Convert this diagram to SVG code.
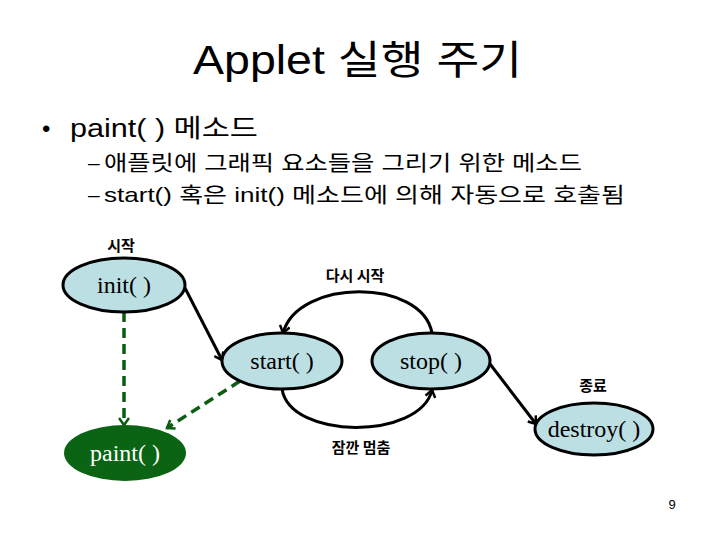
<svg xmlns="http://www.w3.org/2000/svg" width="720" height="540" viewBox="0 0 720 540">
<style>
.kr{font-family:"Liberation Sans","Noto Sans CJK KR",sans-serif;fill:#000}
.lbl{font-family:"Noto Sans CJK KR",sans-serif;font-weight:bold;font-size:15px;text-anchor:middle}
.node{fill:#bcdfe3;stroke:#000;stroke-width:3}
.nt{font-family:"Liberation Serif",serif;font-size:24px;text-anchor:middle;fill:#000}
.e{fill:none;stroke:#000;stroke-width:3}
.d{fill:none;stroke:#0b5d12;stroke-width:3.5;stroke-dasharray:10,6}
</style>
<defs>
<marker id="ab" markerWidth="12" markerHeight="12" refX="9" refY="6" orient="auto" markerUnits="userSpaceOnUse">
<path d="M2,1 L9,6 L2,11" fill="none" stroke="#000" stroke-width="2.5"/>
</marker>
<marker id="ag" markerWidth="12" markerHeight="12" refX="9" refY="6" orient="auto" markerUnits="userSpaceOnUse">
<path d="M2,1 L9,6 L2,11" fill="none" stroke="#0b5d12" stroke-width="2.5"/>
</marker>
</defs>
<rect width="720" height="540" fill="#fff"/>
<text x="193" y="74" class="kr" font-size="40" textLength="329" lengthAdjust="spacingAndGlyphs">Applet 실행 주기</text>
<text x="42" y="137" class="kr" font-size="24">•</text>
<text x="70" y="137" class="kr" font-size="25" textLength="188" lengthAdjust="spacingAndGlyphs">paint( ) 메소드</text>
<text x="88" y="170" class="kr" font-size="21">–</text>
<text x="104" y="170" class="kr" font-size="21" textLength="478" lengthAdjust="spacingAndGlyphs">애플릿에 그래픽 요소들을 그리기 위한 메소드</text>
<text x="88" y="202" class="kr" font-size="21">–</text>
<text x="104" y="202" class="kr" font-size="21" textLength="521" lengthAdjust="spacingAndGlyphs">start() 혹은 init() 메소드에 의해 자동으로 호출됨</text>
<g id="edges">
<path class="e" d="M185,288 L222,360" marker-end="url(#ab)"/>
<path class="e" d="M432,333 C422,278 298,278 283,333" marker-end="url(#ab)"/>
<path class="e" d="M282,389 C290,440 420,440 432,390" marker-end="url(#ab)"/>
<path class="e" d="M490,364 L536,424" marker-end="url(#ab)"/>
<path class="d" d="M124,312 L124,425" marker-end="url(#ag)"/>
<path class="d" d="M240,381 L167,428" marker-end="url(#ag)"/>
<text x="121" y="251" class="lbl">시작</text>
<text x="355" y="281" class="lbl">다시 시작</text>
<text x="361" y="453" class="lbl">잠깐 멈춤</text>
<text x="593" y="391" class="lbl">종료</text>
</g>
<g id="init"><ellipse class="node" cx="124" cy="285" rx="61" ry="27"/><text x="124" y="293" class="nt">init( )</text></g>
<g id="start"><ellipse class="node" cx="282" cy="361" rx="60" ry="28"/><text x="282" y="369" class="nt">start( )</text></g>
<g id="stop"><ellipse class="node" cx="431" cy="361" rx="59" ry="28"/><text x="431" y="369" class="nt">stop( )</text></g>
<g id="destroy"><ellipse class="node" cx="594" cy="429" rx="59" ry="26"/><text x="594" y="437" class="nt">destroy( )</text></g>
<g id="paint"><ellipse cx="125" cy="453" rx="61" ry="28" fill="#0b6414"/><text x="125" y="461" class="nt" style="fill:#fff">paint( )</text></g>
<text x="672" y="509" class="kr" font-size="13" text-anchor="middle">9</text>
</svg>
